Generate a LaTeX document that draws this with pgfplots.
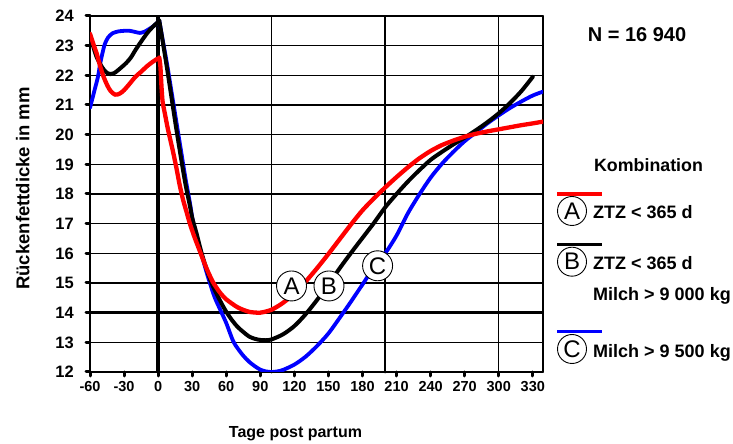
\documentclass[border=0pt]{standalone}
\usepackage{pgfplots}
\pgfplotsset{compat=1.18}
\usepackage{fontspec}
\setmainfont{Liberation Sans}
\begin{document}
\begin{tikzpicture}
\path[use as bounding box] (0pt,0pt) rectangle (733pt,444pt);
\begin{axis}[
  at={(90pt,72pt)}, anchor=south west,
  width=453pt, height=356pt, scale only axis,
  xmin=-60, xmax=339, ymin=12, ymax=24,
  xtick={-60,-30,0,30,60,90,120,150,180,210,240,270,300,330},
  ytick={12,13,...,24},
  extra x ticks={100,200,300},
  extra x tick labels={},
  extra x tick style={grid=major, major tick length=0pt},
  ymajorgrids,
  grid style={black, line width=1.5pt},
  axis line style={black, line width=2pt},
  tick style={black, line width=3pt},
  major tick length=4pt,
  tick align=outside,
  xtick pos=left, ytick pos=left,
  /pgf/number format/assume math mode=true,
  xticklabel style={font=\bfseries\fontsize{14.5}{15}\selectfont, inner sep=0pt, yshift=-5.5pt},
  yticklabel style={font=\bfseries\fontsize{16.5}{17}\selectfont, inner sep=0pt, xshift=-12pt},
  line cap=round, line join=round,
]
\draw[black, line width=2.6pt] (axis cs:-60,14) -- (axis cs:339,14);
\draw[black, line width=4.5pt] (axis cs:0,12) -- (axis cs:0,24);

% blue (C)
\addplot[blue, line width=3.8pt, smooth, tension=0.5] coordinates {
(-60,20.9) (-58,21.2) (-56,21.5) (-53,21.95) (-51,22.4) (-49,22.75) (-47,23.05) (-44,23.28) (-40,23.42) (-35,23.48) (-30,23.5) (-25,23.5) (-20,23.46) (-16,23.43) (-12,23.47) (-8,23.56) (-4,23.66) (0,23.8)};
\addplot[blue, line width=3.8pt, smooth, tension=0.5] coordinates {
(1,23.85) (4,23.2) (8,22.35) (12,21.4) (16,20.45) (20,19.5) (24,18.55) (28,17.7) (31,17.0) (35,16.4) (38,16.0) (42,15.45) (45.6,15.0) (50,14.5) (55.9,14.0) (60,13.65) (66,13.05) (70,12.8) (75,12.55) (80,12.35) (85,12.2) (90,12.08) (95,12.02) (100,12.0) (105,12.02) (110,12.07) (120,12.25) (130,12.52) (140,12.88) (150,13.3) (160,13.83) (170,14.38) (180,14.95) (190,15.52) (200,16.0) (210,16.6) (220,17.35) (230,17.98) (240,18.55) (250,19.02) (260,19.42) (270,19.78) (280,20.08) (290,20.38) (300,20.65) (310,20.9) (320,21.12) (330,21.32) (339,21.45)};

% black (B)
\addplot[black, line width=4pt, smooth, tension=0.5] coordinates {
(-60,23.38) (-57,22.95) (-54,22.6) (-51,22.38) (-48,22.2) (-45,22.08) (-42,22.04) (-39,22.07) (-36,22.15) (-32,22.28) (-28,22.42) (-24,22.6) (-20,22.85) (-16,23.08) (-12,23.3) (-8,23.5) (-4,23.66) (0,23.8)};
\addplot[black, line width=4pt, smooth, tension=0.5] coordinates {
(1,23.85) (4,23.15) (8,22.2) (12,21.2) (16,20.2) (20,19.25) (24,18.35) (28,17.6) (30,17.2) (34,16.65) (38,16.05) (42,15.55) (47,15.0) (52,14.6) (56,14.3) (60,14.03) (65,13.75) (70,13.52) (75,13.35) (80,13.2) (85,13.12) (90,13.08) (95,13.07) (100,13.1) (110,13.27) (120,13.55) (130,13.95) (140,14.43) (150,14.95) (160,15.5) (170,16.02) (180,16.52) (190,17.02) (200,17.55) (210,18.0) (220,18.42) (230,18.8) (240,19.15) (250,19.42) (260,19.67) (270,19.9) (280,20.15) (290,20.42) (300,20.72) (310,21.07) (320,21.47) (330,21.95)};

% red (A)
\addplot[red, line width=4.3pt, smooth, tension=0.5] coordinates {
(-60,23.4) (-57,23.05) (-54,22.72) (-51,22.3) (-48,21.95) (-45,21.68) (-42,21.48) (-38,21.35) (-34,21.38) (-30,21.5) (-25,21.72) (-20,21.95) (-15,22.12) (-10,22.3) (-5,22.45) (-1,22.55)};
\addplot[red, line width=4.3pt, smooth, tension=0.4] coordinates {
(1,22.6) (2,22.3) (3,21.6) (4,21.1) (6,20.7) (8,20.3) (10,19.95) (13,19.45) (16,18.9) (19,18.3) (22,17.8) (25,17.4) (28,17.0) (32,16.55) (37,16.05) (42,15.55) (48,15.05) (54,14.7) (60,14.45) (70,14.18) (80,14.03) (90,14.0) (100,14.1) (110,14.33) (120,14.65) (130,15.05) (140,15.5) (150,15.98) (160,16.48) (170,16.98) (180,17.45) (190,17.85) (200,18.22) (210,18.57) (220,18.9) (230,19.2) (240,19.45) (250,19.65) (260,19.8) (270,19.93) (280,20.03) (290,20.11) (300,20.18) (310,20.25) (320,20.32) (330,20.38) (339,20.44)};

\node[circle, draw=black, line width=0.9pt, fill=white, minimum size=30pt, inner sep=0pt, font=\fontsize{24}{24}\selectfont] at (axis cs:117.5,14.9) {A};
\node[circle, draw=black, line width=0.9pt, fill=white, minimum size=30pt, inner sep=0pt, font=\fontsize{24}{24}\selectfont] at (axis cs:150.5,14.9) {B};
\node[circle, draw=black, line width=0.9pt, fill=white, minimum size=30pt, inner sep=0pt, font=\fontsize{24}{24}\selectfont] at (axis cs:193.3,15.58) {C};
\end{axis}

% axis titles
\node[rotate=90, anchor=base, font=\bfseries\fontsize{18.5}{19}\selectfont] at (29.3pt,255.5pt) {Rückenfettdicke in mm};
\node[anchor=base, font=\bfseries\fontsize{16}{16}\selectfont] at (295.5pt,6pt) {Tage post partum};

% right-hand texts
\node[anchor=base, font=\bfseries\fontsize{20}{20}\selectfont] at (637pt,402.3pt) {N = 16 940};
\node[anchor=base, font=\bfseries\fontsize{17.8}{18}\selectfont] at (648.5pt,272.3pt) {Kombination};

\draw[red, line width=3.5pt] (557pt,250pt) -- (601.7pt,250pt);
\node[circle, draw=black, line width=0.9pt, minimum size=29pt, inner sep=0pt, font=\fontsize{24}{24}\selectfont] at (572pt,233pt) {A};
\node[anchor=base west, inner sep=0pt, font=\bfseries\fontsize{18}{18}\selectfont] at (593pt,225.7pt) {ZTZ < 365 d};

\draw[black, line width=3.5pt] (557pt,199.7pt) -- (601.7pt,199.7pt);
\node[circle, draw=black, line width=0.9pt, minimum size=29pt, inner sep=0pt, font=\fontsize{24}{24}\selectfont] at (572pt,182.3pt) {B};
\node[anchor=base west, inner sep=0pt, font=\bfseries\fontsize{18}{18}\selectfont] at (593pt,174.7pt) {ZTZ < 365 d};
\node[anchor=base west, inner sep=0pt, font=\bfseries\fontsize{18}{18}\selectfont] at (593pt,143.3pt) {Milch > 9 000 kg};

\draw[blue, line width=3.5pt] (557pt,112.3pt) -- (601.7pt,112.3pt);
\node[circle, draw=black, line width=0.9pt, minimum size=29pt, inner sep=0pt, font=\fontsize{24}{24}\selectfont] at (572pt,95pt) {C};
\node[anchor=base west, inner sep=0pt, font=\bfseries\fontsize{18}{18}\selectfont] at (593pt,86.7pt) {Milch > 9 500 kg};
\end{tikzpicture}
\end{document}
